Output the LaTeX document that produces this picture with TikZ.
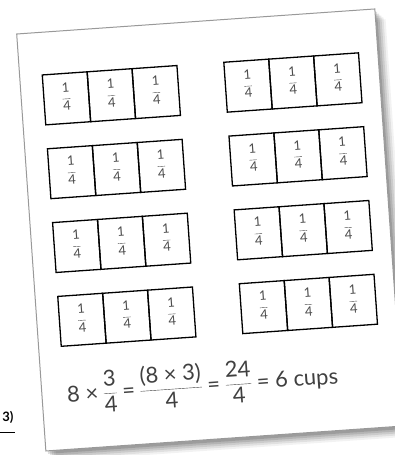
\documentclass[tikz,border=0pt]{standalone}
\usepackage{fontspec}
\setmainfont{Lato}
% fraction set in the text font
\newcommand\qfrac[3][0pt]{$\vcenter{\hbox{\begin{tabular}{@{}c@{}}#2\\[#1]\hline\noalign{\vskip2pt}#3\end{tabular}}}$}
\begin{document}
\begin{tikzpicture}[x=1pt, y=-1pt,
    cell/.style={draw=black, line width=1.3pt, minimum width=45pt, minimum height=50pt,
        anchor=north west, inner sep=0pt, text=black!70, font=\fontsize{13}{13}\selectfont},
    sheet/.style={fill=white, draw=black!40, line width=1pt}]
    % frame
    \useasboundingbox (0,0) rectangle (394,455);
    \fill[white] (0,0) rectangle (394,455);

    % exercise number
    \node[font=\bfseries\fontsize{13}{13}\selectfont, inner sep=1pt] (num) at (8,417) {3)};
    \coordinate (numline) at (0,432);
    \draw[line width=0.9pt] (numline) -- (numline -| num.east);

    \begin{scope}[shift={(16.7,34)}, rotate=4, transform shape]
        % shadow of the sheet
        \foreach \d/\o in {10/0.05, 8/0.07, 6/0.09, 4/0.11, 2/0.13}
            \fill[black, opacity=\o] (\d,\d+1) rectangle (359+\d,418+\d+1);
        % sheet
        \draw[sheet] (0,0) rectangle (359,418);

        % eight strips of three quarter cups
        \foreach \r in {0,...,3}
            \foreach \s/\u in {l/22, r/204}
                \foreach \k in {0,1,2}
                    \node[cell] (c\s\r\k) at ({\u+45*\k},{42+74*\r}) {\qfrac[3pt]{1}{4}};

        % total
        \node[anchor=west, inner sep=0pt, text=black!75, font=\fontsize{22}{24}\selectfont]
            (total) at (25,366) {8 × \qfrac{3}{4} = \qfrac{(8 × 3)}{4} = \qfrac{24}{4} = 6 cups};
    \end{scope}
\end{tikzpicture}
\end{document}
